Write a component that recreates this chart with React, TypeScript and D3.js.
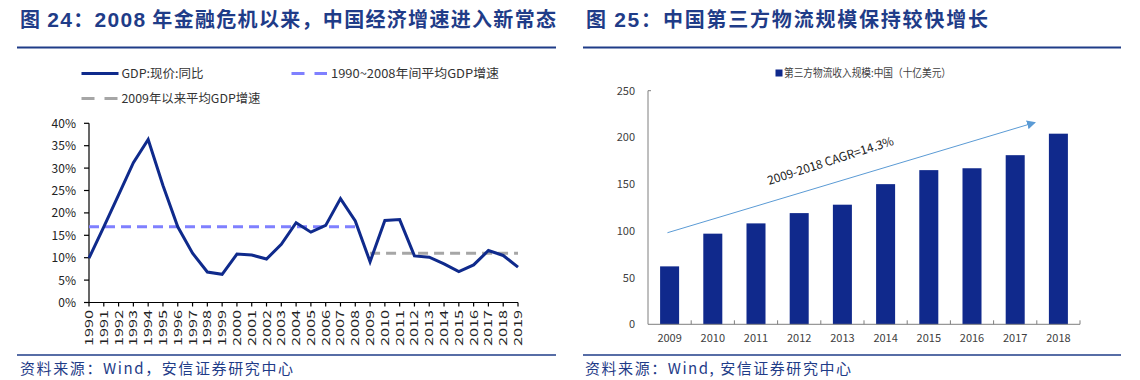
import React from "react";
import * as d3 from "d3";

// ---------- Left chart data ----------
const years = ["1990","1991","1992","1993","1994","1995","1996","1997","1998","1999","2000","2001","2002","2003","2004","2005","2006","2007","2008","2009","2010","2011","2012","2013","2014","2015","2016","2017","2018","2019"];
const gdpGrowth = [9.9,16.9,24.0,31.2,36.4,26.1,16.9,11.0,6.8,6.3,10.8,10.6,9.7,13.0,17.8,15.7,17.2,23.2,18.2,9.1,18.3,18.5,10.4,10.1,8.6,6.9,8.4,11.6,10.5,7.9];
const avg1990to2008 = 16.9;
const avgSince2009 = 11.0;
const pctTicks = [0,5,10,15,20,25,30,35,40];
const leftLegend = ["GDP:现价:同比", "1990~2008年间平均GDP增速", "2009年以来平均GDP增速"];

// ---------- Right chart data ----------
const barYears = ["2009","2010","2011","2012","2013","2014","2015","2016","2017","2018"];
const logisticsRevenue = [62,97,108,119,128,150,165,167,181,204];
const barTicks = [0,50,100,150,200,250];
const rightLegend = "第三方物流收入规模:中国（十亿美元）";
const cagrLabel = "2009-2018 CAGR=14.3%";
const arrowFrom = { i: -0.05, v: 98 };
const arrowTo = { i: 8.46, v: 216 };
const labelAt = { i: 2.3, v: 149 };

const titleLeft = ["图 ", "24", "：", "2008", " 年金融危机以来，中国经济增速进入新常态"];
const titleRight = ["图 ", "25", "：中国第三方物流规模保持较快增长"];
const sourceLeft = "资料来源：Wind，安信证券研究中心";
const sourceRight = "资料来源：Wind, 安信证券研究中心";

const FONT = "'Noto Sans CJK SC', 'Noto Sans', sans-serif";
const LATIN = "'Liberation Sans', Arial, sans-serif";
const HEAD = "#1f3c88";
const NAVY = "#0f2a8c";
const BAR = "#10298c";
const DASH_BLUE = "#7f80ff";
const DASH_GRAY = "#a6a6a6";

export default function App() {
  // Left scales
  const x = d3.scalePoint<string>().domain(years).range([89, 518]);
  const y = d3.scaleLinear().domain([0, 40]).range([302.5, 123.3]);
  const line = d3.line<number>().x((_, i) => x(years[i])!).y((d) => y(d));
  const i2008 = years.indexOf("2008");
  const i2009 = years.indexOf("2009");

  // Right scales
  const xb = d3.scaleBand<string>().domain(barYears).range([648, 1080]).paddingInner(0.56).paddingOuter(0.28);
  const yb = d3.scaleLinear().domain([0, 250]).range([324.3, 90.7]);
  const xi = d3.scaleLinear().domain([-0.5, barYears.length - 0.5]).range([648, 1080]);
  const ax1 = xi(arrowFrom.i), ay1 = yb(arrowFrom.v), ax2 = xi(arrowTo.i), ay2 = yb(arrowTo.v);
  const ang = (Math.atan2(ay2 - ay1, ax2 - ax1) * 180) / Math.PI - 1.2;

  const isLatin = (s: string) => /^[0-9]+$/.test(s);

  return (
    <div style={{ position: "absolute", left: 0, top: 0 }}>
      <svg width={1140} height={380} style={{ display: "block", background: "#fff" }} fontFamily={FONT}>
        <defs>
          <marker id="arr" viewBox="0 0 10 10" refX="9" refY="5" markerWidth="9" markerHeight="9" orient="auto" markerUnits="userSpaceOnUse">
            <path d="M0,0 L10,5 L0,10 z" fill="#5b9bd5" />
          </marker>
        </defs>

        {/* Titles */}
        <text x={20} y={27} fontSize={20} fontWeight="bold" fill={HEAD} textLength={536} lengthAdjust="spacing">
          {titleLeft.map((s, k) => (
            <tspan key={k} fontFamily={isLatin(s) ? LATIN : FONT} fontSize={isLatin(s) ? 21 : 20}>{s}</tspan>
          ))}
        </text>
        <text x={586} y={27} fontSize={20} fontWeight="bold" fill={HEAD} textLength={402} lengthAdjust="spacing">
          {titleRight.map((s, k) => (
            <tspan key={k} fontFamily={isLatin(s) ? LATIN : FONT} fontSize={isLatin(s) ? 21 : 20}>{s}</tspan>
          ))}
        </text>
        <line x1={17} x2={556} y1={47.5} y2={47.5} stroke={HEAD} strokeWidth={2} />
        <line x1={583} x2={1121} y1={47.5} y2={47.5} stroke={HEAD} strokeWidth={2} />

        {/* Footers */}
        <line x1={17} x2={556} y1={355} y2={355} stroke={HEAD} strokeWidth={1.6} />
        <line x1={583} x2={1121} y1={355} y2={355} stroke={HEAD} strokeWidth={1.6} />
        <text x={20} y={373.5} fontSize={15} fill={HEAD} textLength={273} lengthAdjust="spacing">{sourceLeft}</text>
        <text x={585} y={373.5} fontSize={15} fill={HEAD} textLength={266} lengthAdjust="spacing">{sourceRight}</text>

        {/* ---------- Left chart ---------- */}
        {/* Legend */}
        <line x1={81.5} x2={118.5} y1={73.5} y2={73.5} stroke={NAVY} strokeWidth={3} />
        <text x={121.5} y={77.5} fontSize={12} fill="#333" textLength={82} lengthAdjust="spacingAndGlyphs">{leftLegend[0]}</text>
        <line x1={291.5} x2={327} y1={73.5} y2={73.5} stroke={DASH_BLUE} strokeWidth={3} strokeDasharray="13,10" />
        <text x={331} y={77.5} fontSize={12} fill="#333" textLength={168} lengthAdjust="spacingAndGlyphs">{leftLegend[1]}</text>
        <line x1={81.5} x2={118.5} y1={98.5} y2={98.5} stroke={DASH_GRAY} strokeWidth={3} strokeDasharray="13,10" />
        <text x={121.5} y={102.5} fontSize={12} fill="#333" textLength={139} lengthAdjust="spacingAndGlyphs">{leftLegend[2]}</text>

        {/* Y axis */}
        <line x1={89} x2={89} y1={y(40)} y2={y(0)} stroke="#000" strokeWidth={1.2} />
        {pctTicks.map((t) => (
          <g key={t}>
            <line x1={84} x2={89} y1={y(t)} y2={y(t)} stroke="#000" strokeWidth={1.2} />
            <text x={76} y={y(t) + 4.5} fontSize={12} fill="#222" textAnchor="end">{t}%</text>
          </g>
        ))}
        {/* X axis */}
        <line x1={89} x2={518} y1={y(0)} y2={y(0)} stroke="#000" strokeWidth={1.2} />
        {years.map((yr) => (
          <g key={yr}>
            <line x1={x(yr)} x2={x(yr)} y1={y(0)} y2={y(0) + 4} stroke="#000" strokeWidth={1.2} />
            <text transform={`translate(${x(yr)! + 4},${310}) rotate(-90)`} fontSize={11} fill="#222" textAnchor="end" textLength={36} lengthAdjust="spacingAndGlyphs">{yr}</text>
          </g>
        ))}

        {/* Average lines */}
        <line x1={x(years[0])} x2={x(years[i2008])} y1={y(avg1990to2008)} y2={y(avg1990to2008)} stroke={DASH_BLUE} strokeWidth={3} strokeDasharray="10,6" />
        <line x1={x(years[i2009])} x2={x(years[years.length - 1])} y1={y(avgSince2009)} y2={y(avgSince2009)} stroke={DASH_GRAY} strokeWidth={3} strokeDasharray="10,6" />

        {/* GDP line */}
        <path d={line(gdpGrowth) || ""} fill="none" stroke={NAVY} strokeWidth={3} strokeLinejoin="miter" />

        {/* ---------- Right chart ---------- */}
        <rect x={775.5} y={69.5} width={7} height={7} fill={BAR} />
        <text x={784} y={77} fontSize={11} fill="#404040" textLength={167} lengthAdjust="spacingAndGlyphs">{rightLegend}</text>

        {barTicks.map((t) => (
          <text key={t} x={635} y={yb(t) + 4} fontSize={11} fill="#404040" textAnchor="end">{t}</text>
        ))}
        <line x1={648} x2={648} y1={yb(250)} y2={yb(0)} stroke="#7f7f7f" strokeWidth={1} />
        <line x1={648} x2={651} y1={yb(250)} y2={yb(250)} stroke="#7f7f7f" strokeWidth={1} />

        {barYears.map((yr, i) => (
          <g key={yr}>
            <rect x={xb(yr)} y={yb(logisticsRevenue[i])} width={xb.bandwidth()} height={yb(0) - yb(logisticsRevenue[i])} fill={BAR} />
            <text x={xb(yr)! + xb.bandwidth() / 2} y={342} fontSize={11} fill="#404040" textAnchor="middle">{yr}</text>
            <line x1={xi(i + 0.5)} x2={xi(i + 0.5)} y1={yb(0) - 4} y2={yb(0)} stroke="#7f7f7f" strokeWidth={1} />
          </g>
        ))}
        <line x1={648} x2={1080} y1={yb(0)} y2={yb(0)} stroke="#7f7f7f" strokeWidth={1} />

        {/* CAGR arrow */}
        <line x1={ax1} y1={ay1} x2={ax2} y2={ay2} stroke="#5b9bd5" strokeWidth={1} markerEnd="url(#arr)" />
        <text transform={`translate(${xi(labelAt.i)},${yb(labelAt.v)}) rotate(${ang})`} fontSize={12} fill="#222" textLength={132} lengthAdjust="spacingAndGlyphs">{cagrLabel}</text>
      </svg>
    </div>
  );
}
